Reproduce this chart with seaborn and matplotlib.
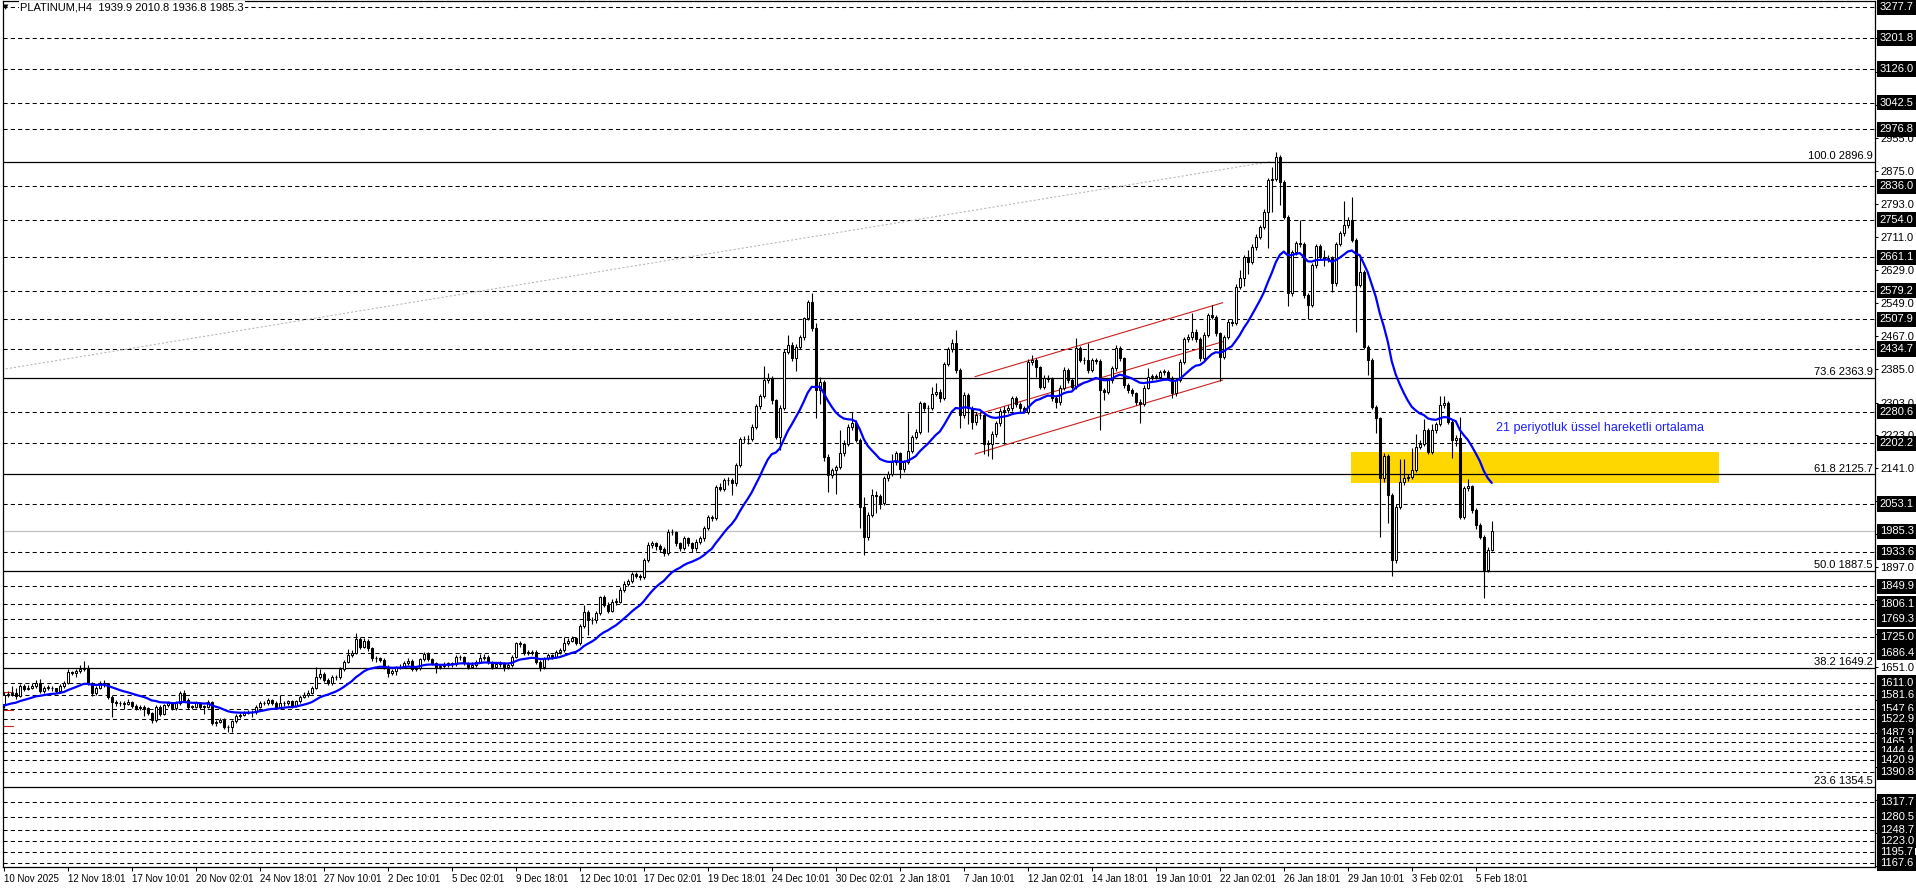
import matplotlib
matplotlib.use("Agg")
import matplotlib.pyplot as plt
import matplotlib.transforms as mtransforms
from matplotlib.patches import Rectangle
import numpy as np
import pandas as pd
import seaborn as sns

# H4 candles (open of each bar = close of the bar before)
closes = [
    1583, 1585, 1588, 1580, 1604, 1597, 1600, 1605, 1612, 1592,
    1600, 1600, 1598, 1592, 1604, 1611, 1639, 1635, 1640, 1647,
    1648, 1611, 1586, 1600, 1612, 1608, 1578, 1565, 1561, 1561,
    1560, 1565, 1555, 1551, 1553, 1549, 1537, 1520, 1553, 1535,
    1556, 1561, 1550, 1561, 1586, 1570, 1553, 1553, 1561, 1553,
    1553, 1565, 1512, 1516, 1521, 1504, 1502, 1517, 1530, 1533,
    1537, 1540, 1540, 1553, 1563, 1561, 1569, 1563, 1553, 1561,
    1561, 1566, 1555, 1566, 1578, 1582, 1588, 1600, 1627, 1634,
    1620, 1611, 1626, 1627, 1647, 1664, 1680, 1686, 1721, 1701,
    1716, 1697, 1672, 1672, 1668, 1652, 1635, 1640, 1650, 1652,
    1660, 1666, 1645, 1648, 1670, 1684, 1670, 1660, 1652, 1653,
    1656, 1660, 1658, 1675, 1675, 1660, 1652, 1656, 1664, 1674,
    1675, 1662, 1652, 1658, 1660, 1650, 1656, 1676, 1709, 1707,
    1686, 1686, 1689, 1664, 1650, 1672, 1680, 1676, 1689, 1693,
    1711, 1716, 1722, 1711, 1752, 1787, 1767, 1767, 1785, 1823,
    1805, 1790, 1812, 1812, 1841, 1856, 1862, 1880, 1876, 1872,
    1915, 1952, 1956, 1950, 1941, 1933, 1984, 1983, 1956, 1944,
    1968, 1956, 1944, 1960, 1968, 1993, 2020, 2019, 2095, 2091,
    2112, 2112, 2104, 2149, 2212, 2212, 2214, 2243, 2294, 2319,
    2358, 2363, 2309, 2219, 2290, 2428, 2445, 2414, 2441, 2464,
    2512, 2550, 2486, 2334, 2354, 2169, 2124, 2136, 2144, 2178,
    2202, 2243, 2253, 2211, 2046, 1972, 2026, 2075, 2073, 2055,
    2116, 2128, 2157, 2178, 2138, 2157, 2184, 2219, 2231, 2301,
    2289, 2289, 2324, 2330, 2315, 2398, 2434, 2449, 2383, 2272,
    2321, 2290, 2255, 2272, 2272, 2202, 2202, 2225, 2252, 2283,
    2285, 2289, 2313, 2300, 2289, 2280, 2404, 2408, 2390, 2342,
    2363, 2362, 2313, 2305, 2340, 2383, 2359, 2342, 2437, 2408,
    2408, 2383, 2408, 2406, 2334, 2330, 2359, 2387, 2437, 2412,
    2346, 2334, 2326, 2305, 2300, 2340, 2367, 2367, 2367, 2379,
    2379, 2363, 2326, 2359, 2404, 2459, 2464, 2478, 2459, 2412,
    2470, 2519, 2515, 2474, 2416, 2465, 2502, 2500, 2589, 2610,
    2662, 2650, 2687, 2712, 2735, 2774, 2852, 2855, 2909, 2848,
    2761, 2572, 2675, 2696, 2693, 2568, 2544, 2642, 2689, 2663,
    2658, 2659, 2597, 2695, 2720, 2741, 2753, 2704, 2593, 2625,
    2441, 2408, 2293, 2264, 2116, 2171, 2075, 1915, 2046, 2108,
    2116, 2120, 2137, 2194, 2202, 2235, 2182, 2235, 2250, 2297,
    2302, 2256, 2211, 2215, 2022, 2092, 2096, 2038, 2000, 1972,
    1890, 1940, 1985.3,
]
highs = [
    1590, 1592, 1605, 1600, 1608, 1610, 1606, 1612, 1618, 1622,
    1604, 1606, 1604, 1600, 1608, 1616, 1645, 1642, 1646, 1655,
    1665, 1655, 1614, 1604, 1616, 1618, 1612, 1582, 1570, 1566,
    1566, 1572, 1568, 1560, 1558, 1556, 1552, 1540, 1556, 1556,
    1560, 1566, 1564, 1566, 1592, 1593, 1574, 1558, 1566, 1564,
    1558, 1570, 1568, 1520, 1526, 1524, 1508, 1521, 1534, 1538,
    1542, 1544, 1545, 1558, 1568, 1568, 1574, 1572, 1566, 1582,
    1566, 1570, 1569, 1570, 1582, 1590, 1594, 1605, 1650, 1647,
    1638, 1624, 1630, 1632, 1652, 1668, 1695, 1692, 1735, 1726,
    1722, 1720, 1700, 1678, 1675, 1672, 1656, 1646, 1654, 1658,
    1665, 1672, 1670, 1654, 1674, 1688, 1688, 1674, 1664, 1658,
    1662, 1664, 1664, 1680, 1680, 1678, 1664, 1662, 1668, 1684,
    1682, 1680, 1666, 1664, 1666, 1664, 1660, 1680, 1712, 1714,
    1710, 1692, 1694, 1692, 1668, 1676, 1686, 1684, 1694, 1698,
    1725, 1722, 1728, 1726, 1758, 1803, 1792, 1774, 1790, 1826,
    1828, 1810, 1818, 1820, 1848, 1862, 1868, 1886, 1885, 1880,
    1920, 1958, 1962, 1960, 1954, 1946, 1990, 1992, 1986, 1960,
    1974, 1972, 1960, 1966, 1974, 1998, 2026, 2026, 2100, 2104,
    2118, 2120, 2116, 2155, 2218, 2220, 2222, 2250, 2300, 2325,
    2392, 2375, 2368, 2312, 2296, 2434, 2470, 2452, 2448, 2470,
    2515, 2555, 2572, 2498, 2365, 2358, 2175, 2142, 2150, 2236,
    2210, 2250, 2280, 2260, 2215, 2070, 2032, 2090, 2085, 2078,
    2122, 2134, 2176, 2184, 2182, 2162, 2277, 2224, 2238, 2306,
    2305, 2296, 2341, 2350, 2336, 2404, 2440, 2460, 2483, 2388,
    2330, 2326, 2294, 2280, 2280, 2278, 2210, 2232, 2258, 2290,
    2294, 2296, 2320, 2318, 2305, 2295, 2410, 2420, 2412, 2394,
    2370, 2370, 2366, 2318, 2346, 2390, 2388, 2364, 2461, 2442,
    2416, 2449, 2414, 2414, 2410, 2340, 2364, 2392, 2445, 2442,
    2416, 2350, 2340, 2330, 2312, 2346, 2387, 2374, 2374, 2384,
    2386, 2384, 2368, 2364, 2410, 2464, 2472, 2523, 2484, 2464,
    2476, 2524, 2544, 2520, 2478, 2470, 2508, 2510, 2595, 2630,
    2668, 2678, 2694, 2718, 2742, 2780, 2856, 2885, 2920, 2914,
    2852, 2765, 2680, 2702, 2754, 2698, 2572, 2648, 2695, 2694,
    2680, 2668, 2664, 2700, 2726, 2799, 2760, 2810, 2710, 2662,
    2630, 2446, 2412, 2298, 2268, 2178, 2176, 2080, 2052, 2163,
    2163, 2128, 2190, 2225, 2210, 2262, 2240, 2250, 2256, 2320,
    2318, 2306, 2262, 2222, 2268, 2098, 2114, 2100, 2042, 2005,
    1976, 1946, 2010.8,
]
lows = [
    1550, 1578, 1580, 1572, 1576, 1592, 1594, 1596, 1600, 1588,
    1586, 1594, 1592, 1586, 1588, 1600, 1608, 1630, 1626, 1636,
    1640, 1606, 1580, 1582, 1596, 1602, 1572, 1528, 1555, 1554,
    1548, 1556, 1550, 1546, 1546, 1530, 1532, 1514, 1515, 1530,
    1532, 1552, 1545, 1546, 1558, 1566, 1548, 1547, 1549, 1548,
    1535, 1550, 1508, 1506, 1512, 1498, 1490, 1490, 1514, 1526,
    1530, 1534, 1528, 1536, 1550, 1556, 1558, 1558, 1548, 1550,
    1555, 1556, 1550, 1552, 1562, 1574, 1578, 1584, 1596, 1622,
    1615, 1606, 1606, 1620, 1622, 1642, 1660, 1676, 1682, 1695,
    1698, 1690, 1666, 1664, 1662, 1646, 1625, 1630, 1630, 1645,
    1648, 1655, 1640, 1640, 1644, 1666, 1665, 1655, 1637, 1646,
    1648, 1652, 1652, 1654, 1668, 1655, 1645, 1648, 1652, 1660,
    1668, 1658, 1646, 1648, 1652, 1640, 1645, 1652, 1672, 1700,
    1680, 1680, 1680, 1658, 1640, 1646, 1668, 1670, 1672, 1684,
    1688, 1706, 1712, 1706, 1706, 1748, 1730, 1758, 1760, 1780,
    1798, 1784, 1786, 1804, 1808, 1836, 1850, 1858, 1870, 1866,
    1868, 1910, 1945, 1940, 1934, 1925, 1928, 1976, 1950, 1938,
    1940, 1950, 1934, 1938, 1955, 1962, 1988, 2012, 2014, 2084,
    2086, 2100, 2075, 2098, 2144, 2204, 2200, 2208, 2238, 2288,
    2314, 2350, 2300, 2212, 2186, 2284, 2422, 2405, 2380, 2436,
    2458, 2506, 2480, 2265, 2300, 2160, 2082, 2118, 2078, 2138,
    2172, 2196, 2236, 2205, 1993, 1926, 1965, 2020, 2030, 2040,
    2050, 2110, 2122, 2150, 2116, 2132, 2152, 2178, 2214, 2226,
    2282, 2230, 2284, 2318, 2304, 2310, 2392, 2428, 2376, 2240,
    2266, 2250, 2238, 2248, 2262, 2175, 2170, 2165, 2218, 2246,
    2200, 2278, 2282, 2292, 2280, 2277, 2276, 2396, 2367, 2336,
    2336, 2354, 2306, 2290, 2298, 2334, 2352, 2336, 2336, 2402,
    2398, 2376, 2378, 2398, 2235, 2310, 2324, 2352, 2380, 2406,
    2340, 2326, 2318, 2298, 2252, 2294, 2336, 2358, 2360, 2362,
    2372, 2358, 2315, 2318, 2354, 2398, 2452, 2458, 2452, 2405,
    2408, 2464, 2508, 2468, 2355, 2410, 2460, 2492, 2494, 2584,
    2590, 2620, 2644, 2680, 2706, 2730, 2683, 2774, 2850, 2790,
    2755, 2540, 2566, 2668, 2686, 2560, 2508, 2538, 2636, 2656,
    2640, 2650, 2575, 2590, 2690, 2714, 2734, 2698, 2478, 2588,
    2434, 2372, 2286, 2227, 1972, 2108, 2005, 1875, 1908, 2040,
    2100, 2110, 2114, 2132, 2188, 2196, 2176, 2176, 2228, 2244,
    2290, 2250, 2167, 2196, 2016, 2016, 2086, 2030, 1992, 1966,
    1822, 1884, 1936.8,
]
first_open = 1560.0
ema_start = 1553.0  # value of the blue line at the left edge
ema_period = 21

time_labels = [
    "10 Nov 2025", "12 Nov 18:01", "17 Nov 10:01", "20 Nov 02:01", "24 Nov 18:01",
    "27 Nov 10:01", "2 Dec 10:01", "5 Dec 02:01", "9 Dec 18:01", "12 Dec 10:01",
    "17 Dec 02:01", "19 Dec 18:01", "24 Dec 10:01", "30 Dec 02:01", "2 Jan 18:01",
    "7 Jan 10:01", "12 Jan 02:01", "14 Jan 18:01", "19 Jan 10:01", "22 Jan 02:01",
    "26 Jan 18:01", "29 Jan 10:01", "3 Feb 02:01", "5 Feb 18:01",
]
label_step = 16

dash_levels = [
    3277.7, 3201.8, 3126.0, 3042.5, 2976.8, 2836.0, 2754.0, 2661.1, 2579.2,
    2507.9, 2434.7, 2280.6, 2202.2, 2053.1, 1933.6, 1849.9, 1806.1, 1769.3,
    1725.0, 1686.4, 1611.0, 1581.6, 1547.6, 1522.9, 1487.9, 1465.1, 1444.4,
    1420.9, 1390.8, 1317.7, 1280.5, 1248.7, 1223.0, 1195.7, 1167.6,
]
fib_pcts = [100.0, 73.6, 61.8, 50.0, 38.2, 23.6]
fib_prices = [2896.9, 2363.9, 2125.7, 1887.5, 1649.2, 1354.5]
bid_price = 1985.3
# plain scale marks; the ones hidden behind level boxes get no text
scale_ticks = [
    3201.0, 3119.0, 3037.0, 2955.0, 2875.0, 2793.0, 2711.0, 2629.0, 2549.0,
    2467.0, 2385.0, 2303.0, 2223.0, 2141.0, 2059.0, 1979.0, 1897.0, 1815.0,
    1733.0, 1651.0, 1569.0, 1487.0, 1405.0, 1323.0, 1241.0, 1159.0,
]
scale_shown = [2955.0, 2875.0, 2793.0, 2711.0, 2629.0, 2549.0, 2467.0, 2385.0,
               2303.0, 2223.0, 2141.0, 1897.0, 1651.0]

channel_x = [242.8, 304.75]
channel_upper = [2366.8, 2549.3]
channel_mid = [2272.3, 2453.1]
channel_lower = [2176.1, 2358.6]

fib_trend_x = [0.5, 316.6]
fib_trend_y = [2386.0, 2896.9]

zone_x = [336.8, 428.8]
zone_y = [2103.8, 2181.7]

edge_marks_x = [-0.2, 2.2]
edge_marks_y = [1590.0, 1545.0, 1505.0]

ema_note = "21 periyotluk üssel hareketli ortalama"
note_x, note_y = 373, 2240
title_text = "PLATINUM,H4  1939.9 2010.8 1936.8 1985.3"

NARROW = ["Liberation Sans Narrow", "Liberation Sans", "DejaVu Sans"]


def main() -> None:
    sns.set_style("white")
    plt.rcParams["font.family"] = ["Liberation Sans", "DejaVu Sans"]
    plt.rcParams["text.color"] = "black"

    assert len(closes) == len(highs) == len(lows)
    df = pd.DataFrame({"close": closes, "high": highs, "low": lows})
    df["open"] = [first_open] + closes[:-1]
    df["bar"] = np.arange(len(df))
    df["ema"] = pd.Series([ema_start] + closes).ewm(span=ema_period, adjust=False).mean().iloc[1:].to_numpy()

    W, H = 1916, 888
    fig = plt.figure(figsize=(W / 100, H / 100), dpi=100)
    ax = fig.add_axes([3 / W, 21 / H, 1872 / W, 866 / H])
    ax.set_xlim(-0.175, 467.8)
    ax.set_ylim(1157.7, 3293.2)

    for lv in dash_levels:
        ax.axhline(lv, color="black", lw=0.75, ls=(0, (4, 3)), zorder=1)
    ax.axhline(bid_price, color="#c0c0c0", lw=0.9, zorder=1)

    trans = mtransforms.blended_transform_factory(ax.transAxes, ax.transData)
    for pct, price in zip(fib_pcts, fib_prices):
        ax.axhline(price, color="black", lw=0.9, zorder=1.5)
        ax.text(0.9989, price + 2, f"{pct:.1f} {price:.1f}", transform=trans, family=NARROW,
                ha="right", va="bottom", fontsize=8, color="black", zorder=2)

    ax.plot(fib_trend_x, fib_trend_y, color="#b4b4b4", lw=0.75, ls=(0, (2, 2)), zorder=1)
    ax.add_patch(Rectangle((zone_x[0], zone_y[0]), zone_x[1] - zone_x[0], zone_y[1] - zone_y[0],
                           facecolor="#ffd700", edgecolor="none", zorder=0.8))
    for chan in (channel_upper, channel_mid, channel_lower):
        ax.plot(channel_x, chan, color="#c82020", lw=0.8, zorder=2)
    for my in edge_marks_y:
        ax.plot(edge_marks_x, [my, my], color="#c82020", lw=0.8, zorder=2)

    # candles
    up = df["close"] >= df["open"]
    body_low = np.minimum(df["open"], df["close"])
    body_h = np.maximum((df["close"] - df["open"]).abs(), 1.0)
    ax.vlines(df["bar"], df["low"], df["high"], color="black", lw=0.8, zorder=3)
    ax.bar(df["bar"][up], body_h[up], bottom=body_low[up], width=0.6,
           facecolor="white", edgecolor="black", lw=0.75, zorder=4)
    ax.bar(df["bar"][~up], body_h[~up], bottom=body_low[~up], width=0.6,
           facecolor="black", edgecolor="black", lw=0.75, zorder=4)

    sns.lineplot(data=df, x="bar", y="ema", color="#0000ff", lw=1.6, ax=ax, zorder=5, legend=False)
    ax.text(note_x, note_y, ema_note, color="#2020ff", fontsize=9, ha="left", va="center", zorder=6)

    # price scale
    ax.set_yticks(scale_ticks)
    ax.set_yticklabels([f"{v:.1f}" if v in scale_shown else "" for v in scale_ticks],
                       fontsize=8, family=NARROW)
    ax.tick_params(axis="y", which="both", left=False, right=True, labelleft=False, labelright=True,
                   direction="out", length=2.5, width=0.75, pad=1.5, colors="black")
    for lv in dash_levels + [bid_price]:
        ax.text(1.0025, lv, f"{lv:.1f}", transform=trans, ha="left", va="center", color="white",
                fontsize=8, family=NARROW, clip_on=False, zorder=7,
                bbox=dict(boxstyle="square,pad=0.25", facecolor="black", edgecolor="none"))

    # time scale
    ax.set_xticks(np.arange(len(time_labels)) * label_step)
    ax.set_xticklabels(time_labels, fontsize=7, ha="left", family=NARROW)
    ax.tick_params(axis="x", bottom=True, direction="out", length=3, width=0.75, pad=2, colors="black")
    ax.set_xlabel("")
    ax.set_ylabel("")
    ax.grid(False)
    for sp in ax.spines.values():
        sp.set_color("black")
        sp.set_linewidth(0.9)

    fig.text(6 / W, 1 - 7 / H, "\u25bc", fontsize=5, ha="center", va="center", family="DejaVu Sans")
    fig.text(20 / W, 1 - 7 / H, title_text, fontsize=8, ha="left", va="center", family=NARROW,
             bbox=dict(boxstyle="square,pad=0.1", facecolor="white", edgecolor="none"))

    fig.savefig("out.png", dpi=100)


if __name__ == "__main__":
    main()
